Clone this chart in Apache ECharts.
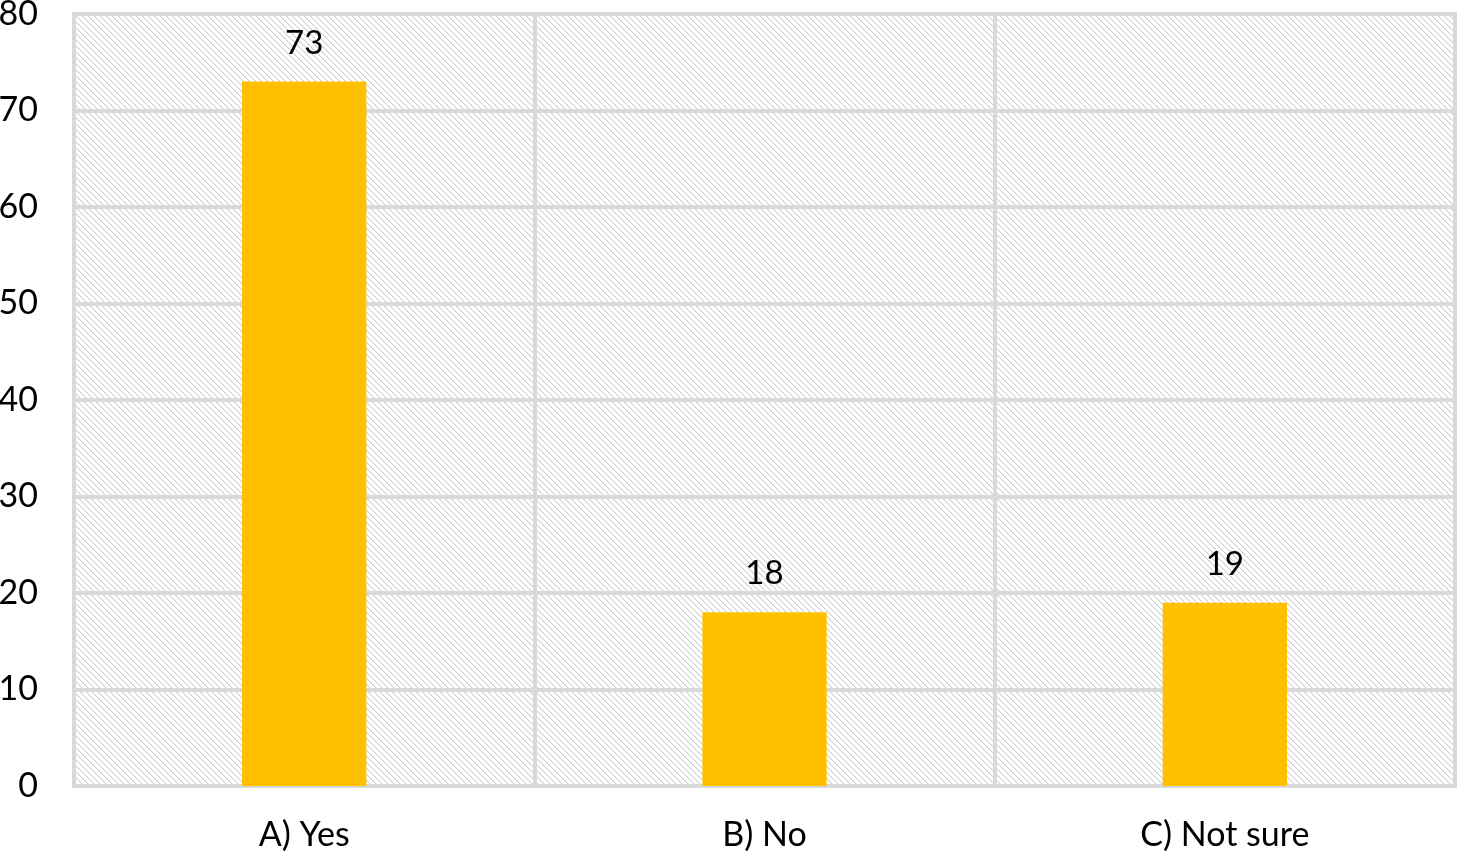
<!DOCTYPE html>
<html>
<head>
<meta charset="utf-8">
<script src="https://cdn.jsdelivr.net/npm/echarts@6/dist/echarts.min.js"></script>
<style>html,body{margin:0;padding:0;background:#fff}#c{width:1457px;height:854px}</style>
</head>
<body>
<div id="c"></div>
<script>
var categories = ['A) Yes', 'B) No', 'C) Not sure'];
var values = [73, 18, 19];
var yTicks = [0, 10, 20, 30, 40, 50, 60, 70, 80];

// hatch pattern
var pc = document.createElement('canvas');
pc.width = 6; pc.height = 6;
var ctx = pc.getContext('2d');
ctx.fillStyle = '#ffffff';
ctx.fillRect(0, 0, 6, 6);
for (var y = 0; y < 6; y++) {
  for (var x = 0; x < 6; x++) {
    var d = ((x - y) % 6 + 6) % 6;
    if ((d === 0 || d === 1) && (x + y) % 2 === 0) { ctx.fillStyle = '#cccccc'; ctx.fillRect(x, y, 1, 1); }
    else if (d === 0 || d === 1) { ctx.fillStyle = '#f0f0f0'; ctx.fillRect(x, y, 1, 1); }
  }
}

var chart = echarts.init(document.getElementById('c'));
var font = 'Lato, "Open Sans", sans-serif';
chart.setOption({
  animation: false,
  grid: {
    left: 74, right: 2, top: 14, bottom: 68,
    containLabel: false,
    outerBoundsMode: 'none',
    show: true,
    backgroundColor: { image: pc, repeat: 'repeat' },
    borderColor: '#d9d9d9', borderWidth: 4
  },
  xAxis: {
    type: 'category',
    data: categories,
    axisLine: { show: true, lineStyle: { color: '#d9d9d9', width: 4 } },
    axisTick: { show: false },
    splitLine: { show: true, lineStyle: { color: '#d9d9d9', width: 4 } },
    axisLabel: { color: '#000', fontSize: 34, fontFamily: font, margin: 32 }
  },
  yAxis: {
    type: 'value',
    min: yTicks[0], max: yTicks[yTicks.length - 1], interval: 10,
    axisLine: { show: false },
    axisTick: { show: false },
    splitLine: { show: true, lineStyle: { color: '#d9d9d9', width: 4 } },
    axisLabel: { color: '#000', fontSize: 34, fontFamily: font, margin: 36 }
  },
  series: [{
    type: 'bar',
    data: values,
    barWidth: '27%',
    itemStyle: { color: '#ffc000' },
    label: { show: true, position: 'top', distance: 22, color: '#000', fontSize: 33, fontFamily: font }
  }]
});
</script>
</body>
</html>
